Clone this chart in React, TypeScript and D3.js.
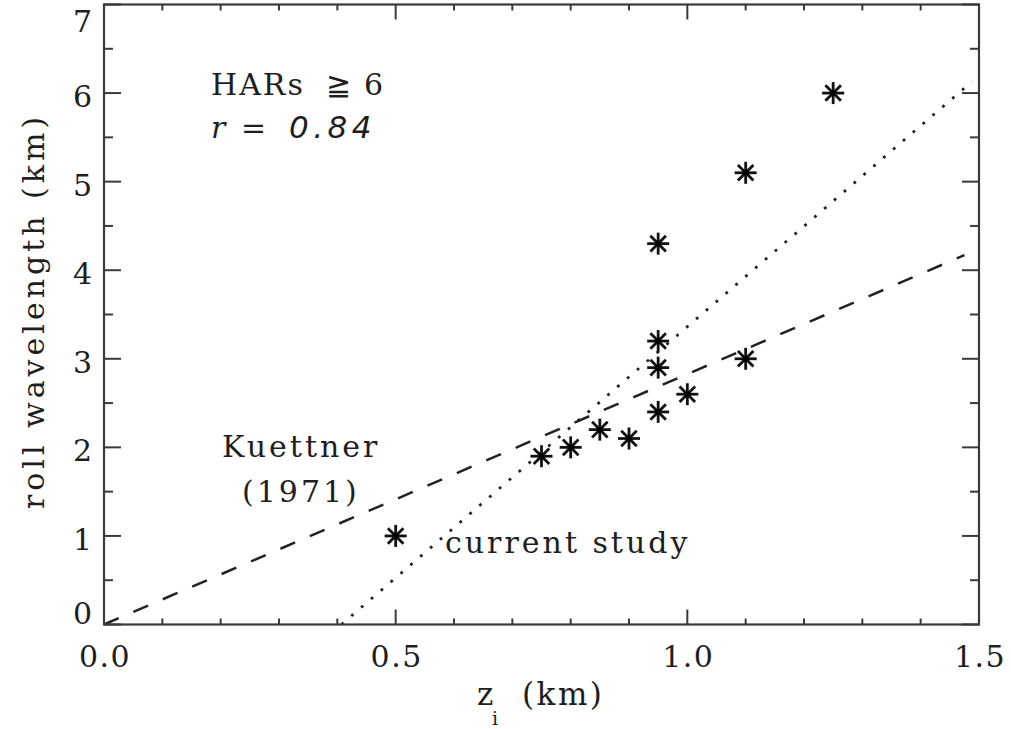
import React from "react";
import * as d3 from "d3";

const pointsX = [0.5, 0.75, 0.8, 0.85, 0.9, 0.95, 0.95, 0.95, 0.95, 1.0, 1.1, 1.1, 1.25];
const pointsY = [1.0, 1.9, 2.0, 2.2, 2.1, 2.4, 2.9, 3.2, 4.3, 2.6, 3.0, 5.1, 6.0];

const kuettnerX = [0.0, 1.475];
const kuettnerY = [0.0, 4.17];
const currentX = [0.407, 1.488];
const currentY = [0.0, 6.13];

const xMajorTicks = [0.0, 0.5, 1.0, 1.5];
const xMinorTicks = [0.1, 0.2, 0.3, 0.4, 0.6, 0.7, 0.8, 0.9, 1.1, 1.2, 1.3, 1.4];
const xTickLabels = ["0.0", "0.5", "1.0", "1.5"];
const yMajorTicks = [0, 1, 2, 3, 4, 5, 6, 7];
const yMinorTicks = [0.5, 1.5, 2.5, 3.5, 4.5, 5.5, 6.5];
const yTickLabels = ["0", "1", "2", "3", "4", "5", "6", "7"];

const W = 1011;
const H = 729;
const left = 104;
const right = 979;
const top = 4.5;
const bottom = 624.5;

const FONT = "'DejaVu Serif', 'Liberation Serif', serif";
const INK = "#1e1e1e";
const FRAME = "#3a3a3a";

export default function App() {
  const x = d3.scaleLinear().domain([0, 1.5]).range([left, right]);
  const y = d3.scaleLinear().domain([0, 7]).range([bottom, top]);
  const line = d3
    .line<[number, number]>()
    .x((d) => x(d[0]))
    .y((d) => y(d[1]));

  const kPts: [number, number][] = kuettnerX.map((v, i) => [v, kuettnerY[i]]);
  const cPts: [number, number][] = currentX.map((v, i) => [v, currentY[i]]);

  const star = (cx: number, cy: number, key: number) => {
    const r = 11;
    const d = r * Math.SQRT1_2;
    return (
      <g key={key} stroke="#111" strokeWidth={2.8} strokeLinecap="butt">
        <line x1={cx - r} y1={cy} x2={cx + r} y2={cy} />
        <line x1={cx} y1={cy - r} x2={cx} y2={cy + r} />
        <line x1={cx - d} y1={cy - d} x2={cx + d} y2={cy + d} />
        <line x1={cx - d} y1={cy + d} x2={cx + d} y2={cy - d} />
        <circle cx={cx} cy={cy} r={3} fill="#000" stroke="none" />
      </g>
    );
  };

  return (
    <svg
      width={W}
      height={H}
      style={{ position: "absolute", left: 0, top: 0, background: "#fff" }}
      fontFamily={FONT}
    >
      {/* lines */}
      <path d={line(kPts) || ""} fill="none" stroke="#222" strokeWidth={2.5} strokeDasharray="16 16" />
      <path d={line(cPts) || ""} fill="none" stroke="#222" strokeWidth={2.8} strokeDasharray="2.8 10.2" />

      {/* points */}
      {pointsX.map((v, i) => star(x(v), y(pointsY[i]), i))}

      {/* frame */}
      <rect x={left} y={top} width={right - left} height={bottom - top} fill="none" stroke={FRAME} strokeWidth={2.2} />

      {/* ticks */}
      <g stroke={FRAME} strokeWidth={2}>
        {xMajorTicks.map((t) => (
          <g key={"xM" + t}>
            <line x1={x(t)} x2={x(t)} y1={bottom} y2={bottom - 15} />
            <line x1={x(t)} x2={x(t)} y1={top} y2={top + 15} />
          </g>
        ))}
        {xMinorTicks.map((t) => (
          <g key={"xm" + t}>
            <line x1={x(t)} x2={x(t)} y1={bottom} y2={bottom - 6} />
            <line x1={x(t)} x2={x(t)} y1={top} y2={top + 6} />
          </g>
        ))}
        {yMajorTicks.map((t) => (
          <g key={"yM" + t}>
            <line x1={left} x2={left + 17} y1={y(t)} y2={y(t)} />
            <line x1={right} x2={right - 17} y1={y(t)} y2={y(t)} />
          </g>
        ))}
        {yMinorTicks.map((t) => (
          <g key={"ym" + t}>
            <line x1={left} x2={left + 9} y1={y(t)} y2={y(t)} />
            <line x1={right} x2={right - 9} y1={y(t)} y2={y(t)} />
          </g>
        ))}
      </g>

      {/* tick labels */}
      <g fill={INK} fontSize={30}>
        {xMajorTicks.map((t, i) => (
          <text key={"xl" + t} x={x(t) + 1} y={667} textAnchor="middle" letterSpacing={1.5}>
            {xTickLabels[i]}
          </text>
        ))}
        {yMajorTicks.map((t, i) => (
          <text key={"yl" + t} x={92} y={Math.min(Math.max(y(t) + 14, 32), 624)} textAnchor="end">
            {yTickLabels[i]}
          </text>
        ))}
      </g>

      {/* axis titles */}
      <text
        fill={INK}
        fontSize={30}
        textAnchor="middle"
        transform={`translate(44, 311) rotate(-90)`}
        letterSpacing={4}
      >
        roll wavelength (km)
      </text>
      <text fill={INK} fontSize={31} y={705}>
        <tspan x={477}>z</tspan>
        <tspan x={492} fontSize={19} dy={20}>i</tspan>
        <tspan x={522} dy={-20} letterSpacing={2.5}>(km)</tspan>
      </text>

      {/* annotations */}
      <text fill={INK} fontSize={30} y={95}>
        <tspan x={211} letterSpacing={2}>HARs</tspan>
        <tspan x={326}>≧</tspan>
        <tspan x={364}>6</tspan>
      </text>
      <text fill={INK} fontSize={30} y={138}>
        <tspan x={211} fontStyle="italic">r</tspan>
        <tspan x={241}>=</tspan>
        <tspan x={289} fontSize={31} fontStyle="italic" fontFamily="'DejaVu Sans', sans-serif" letterSpacing={4.5}>0.84</tspan>
      </text>
      <text fill={INK} fontSize={30} x={222} y={457} letterSpacing={3}>
        Kuettner
      </text>
      <text fill={INK} fontSize={30} x={242} y={502} letterSpacing={3}>
        (1971)
      </text>
      <text fill={INK} fontSize={30} x={445} y={553} letterSpacing={3}>
        current study
      </text>
    </svg>
  );
}
